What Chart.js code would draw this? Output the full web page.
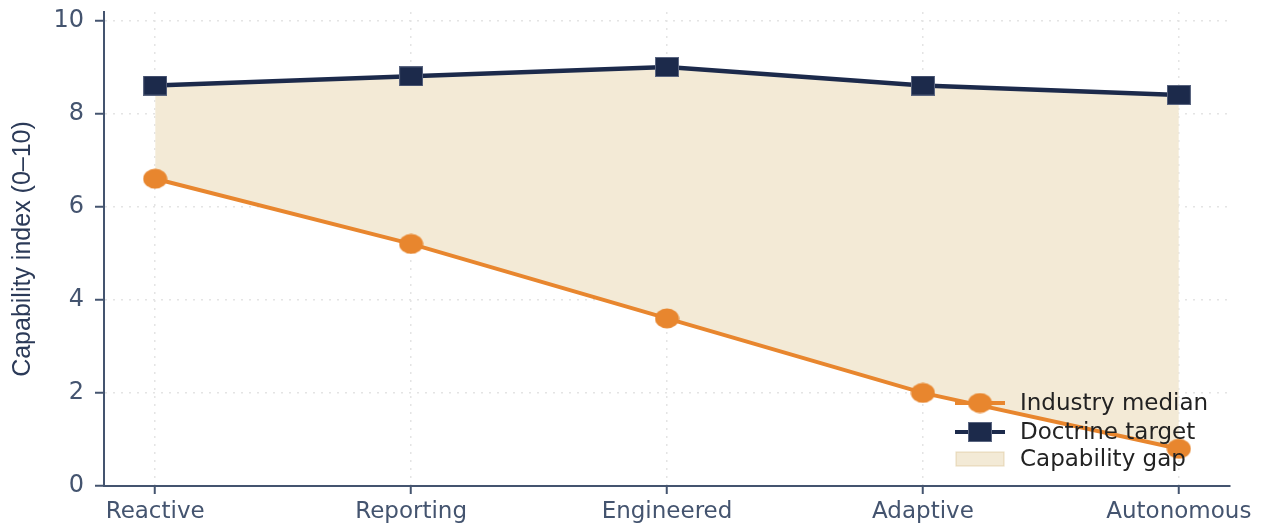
<!DOCTYPE html>
<html><head><meta charset="utf-8">
<script src="https://cdn.jsdelivr.net/npm/chart.js@4/dist/chart.umd.min.js"></script>
<style>html,body{margin:0;padding:0;background:#fff;}#wrap{width:1263px;height:523px;}</style>
</head><body><div id="wrap"><canvas id="c" width="1263" height="523"></canvas></div>
<script>
const categories = ['Reactive', 'Reporting', 'Engineered', 'Adaptive', 'Autonomous'];
const industryMedian = [6.6, 5.2, 3.6, 2.0, 0.8];
const doctrineTarget = [8.6, 8.8, 9.0, 8.6, 8.4];
const yTicks = [0, 2, 4, 6, 8, 10];
const seriesNames = ['Industry median', 'Doctrine target', 'Capability gap'];
const yTitle = 'Capability index (0–10)';

const ORANGE = '#e8862e', NAVY = '#1c2a4b', GAP = '#f3ead6', GAPEDGE = 'rgba(215,190,140,0.45)';
const AXIS = '#44546f', TICKTXT = '#44546f';

function ellipseImg(w, h, color) {
  const c = document.createElement('canvas'); c.width = w; c.height = h;
  const g = c.getContext('2d'); g.fillStyle = color; g.beginPath();
  g.ellipse(w / 2, h / 2, w / 2 - 0.5, h / 2 - 0.5, 0, 0, Math.PI * 2); g.fill();
  return c;
}
function rectImg(w, h, fill, stroke) {
  const c = document.createElement('canvas'); c.width = w; c.height = h;
  const g = c.getContext('2d'); g.fillStyle = fill; g.fillRect(0, 0, w, h);
  g.strokeStyle = stroke; g.lineWidth = 1; g.strokeRect(0.5, 0.5, w - 1, h - 1);
  return c;
}
const circleMark = ellipseImg(25, 21, ORANGE);
const squareMark = rectImg(24, 20, NAVY, '#5a6580');

const toPts = arr => arr.map((v, i) => ({ x: i, y: v }));

Chart.defaults.font.family = "'DejaVu Sans', sans-serif";
Chart.defaults.animation = false;

const legendPlugin = {
  id: 'customLegend',
  afterDraw(chart) {
    const ctx = chart.ctx, a = chart.chartArea;
    const hx = a.right - 250, tx = a.right - 210;
    const rows = [a.bottom - 83, a.bottom - 54, a.bottom - 27];
    ctx.save();
    ctx.strokeStyle = ORANGE; ctx.lineWidth = 4; ctx.beginPath();
    ctx.moveTo(hx - 25, rows[0]); ctx.lineTo(hx + 25, rows[0]); ctx.stroke();
    ctx.drawImage(circleMark, hx - circleMark.width / 2, rows[0] - circleMark.height / 2);
    ctx.strokeStyle = NAVY; ctx.beginPath();
    ctx.moveTo(hx - 25, rows[1]); ctx.lineTo(hx + 25, rows[1]); ctx.stroke();
    ctx.drawImage(squareMark, hx - squareMark.width / 2, rows[1] - squareMark.height / 2);
    ctx.fillStyle = GAP; ctx.fillRect(hx - 24, rows[2] - 7, 48, 14);
    ctx.strokeStyle = GAPEDGE; ctx.lineWidth = 1.2; ctx.strokeRect(hx - 24, rows[2] - 7, 48, 14);
    ctx.fillStyle = '#222222'; ctx.font = "23px 'DejaVu Sans'"; ctx.textBaseline = 'middle'; ctx.textAlign = 'left';
    seriesNames.forEach((n, i) => ctx.fillText(n, tx, rows[i] + 1));
    ctx.restore();
  }
};

new Chart(document.getElementById('c'), {
  type: 'line',
  data: {
    datasets: [
      { label: seriesNames[0], data: toPts(industryMedian), borderColor: ORANGE, backgroundColor: ORANGE,
        borderWidth: 4, pointStyle: circleMark, pointRadius: 12, fill: false, tension: 0, clip: false },
      { label: seriesNames[1], data: toPts(doctrineTarget), borderColor: NAVY, backgroundColor: NAVY,
        borderWidth: 4.5, pointStyle: squareMark, pointRadius: 12, fill: false, tension: 0, clip: false },
      { label: seriesNames[2], data: toPts(doctrineTarget), borderColor: GAPEDGE, backgroundColor: GAP,
        borderWidth: 1, pointRadius: 0, fill: 0, tension: 0 }
    ]
  },
  options: {
    responsive: false,
    layout: { autoPadding: false, padding: { left: 8, right: 33, top: 12, bottom: 0 } },
    plugins: { legend: { display: false }, tooltip: { enabled: false } },
    scales: {
      x: {
        type: 'linear', min: -0.2, max: 4.2,
        afterBuildTicks: s => { s.ticks = categories.map((_, i) => ({ value: i })); },
        afterFit: s => { s.height = 37; s.paddingLeft = 0; s.paddingRight = 0; },
        ticks: { callback: v => categories[v], color: TICKTXT, font: { size: 23 }, padding: 4, maxRotation: 0, autoSkip: false },
        grid: { color: '#e4e4e4', lineWidth: 1.5, tickColor: AXIS, tickLength: 8, tickWidth: 2 },
        border: { color: AXIS, width: 2, dash: [2, 6] }
      },
      y: {
        min: 0, max: 10.18,
        afterBuildTicks: s => { s.ticks = yTicks.map(v => ({ value: v })); },
        afterFit: s => { s.width = 96; s.paddingTop = 0; s.paddingBottom = 0; },
        ticks: { color: TICKTXT, font: { size: 24, lineHeight: 1.0 }, padding: 11 },
        grid: { color: '#e4e4e4', lineWidth: 1.5, tickColor: AXIS, tickLength: 9, tickWidth: 2 },
        border: { color: AXIS, width: 2, dash: [2, 6] },
        title: { display: true, text: yTitle, color: '#2b3a58', font: { family: "'Liberation Sans', Arial, sans-serif", size: 25 }, padding: 0 }
      }
    }
  },
  plugins: [legendPlugin]
});
</script></body></html>
